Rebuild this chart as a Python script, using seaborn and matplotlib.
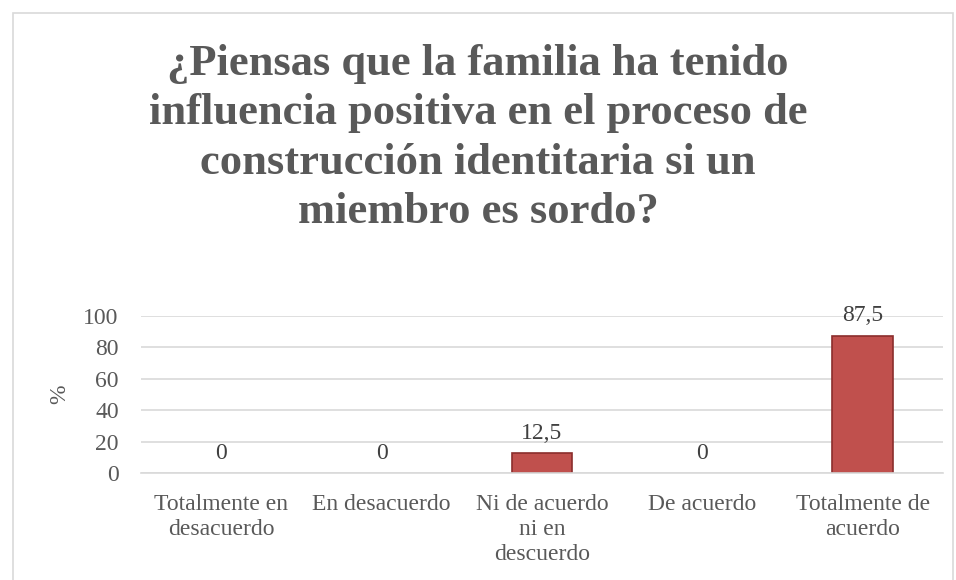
import matplotlib
matplotlib.use("Agg")
import matplotlib.pyplot as plt
import seaborn as sns
import pandas as pd
from matplotlib.patches import Rectangle

# ── Data ──
categories = [
    "Totalmente en\ndesacuerdo",
    "En desacuerdo",
    "Ni de acuerdo\nni en\ndescuerdo",
    "De acuerdo",
    "Totalmente de\nacuerdo",
]
values = [0, 0, 12.5, 0, 87.5]
value_labels = ["0", "0", "12,5", "0", "87,5"]
y_ticks = [0, 20, 40, 60, 80, 100]

title = ("¿Piensas que la familia ha tenido\ninfluencia positiva en el proceso de\n"
         "construcción identitaria si un\nmiembro es sordo?")

df = pd.DataFrame({"cat": categories, "val": values})

sns.set_style("white")
plt.rcParams["font.family"] = ["Liberation Serif", "DejaVu Serif"]

text_col = "#595959"
bar_col = "#C0504D"

fig = plt.figure(figsize=(9.56, 5.8), dpi=100)
ax = fig.add_axes([141 / 956, 1 - 473 / 580, 802 / 956, 157 / 580])

sns.barplot(data=df, x="cat", y="val", color=bar_col, width=0.38,
            edgecolor="#8B2E2C", linewidth=1.2, saturation=1, ax=ax)
# zero-height bars should not leave an outline
for patch, v in zip(ax.patches, values):
    if v == 0:
        patch.set_linewidth(0)

for i, (v, lab) in enumerate(zip(values, value_labels)):
    ax.text(i, v + 6, lab, ha="center", va="bottom", fontsize=17, color="#404040")

ax.set_ylim(0, 100)
ax.set_yticks(y_ticks)
ax.set_yticklabels([str(t) for t in y_ticks], fontsize=17, color=text_col)
ax.set_xticklabels(categories, fontsize=17, color=text_col, linespacing=1.25)
ax.set_xlabel("")
ax.set_ylabel("%", fontsize=17, color=text_col)
ax.yaxis.set_label_coords(-0.088, 0.5)
ax.yaxis.grid(True, color="#D9D9D9", linewidth=1.2)
ax.set_axisbelow(True)
ax.tick_params(axis="y", length=0, pad=16)
ax.tick_params(axis="x", length=0, pad=15)
for side in ["top", "right", "left"]:
    ax.spines[side].set_visible(False)
ax.spines["bottom"].set_color("#D9D9D9")
ax.spines["bottom"].set_linewidth(1.2)

# last title line sits on y=223 px from the top
fig.text(0.5, 1 - 223 / 580, title, ha="center", va="baseline", fontsize=32,
         fontweight="bold", color=text_col, linespacing=1.3)

# chart border
fig.patches.append(Rectangle((13 / 956, -0.01), 940 / 956, 1 - 13 / 580 + 0.01,
                             transform=fig.transFigure, fill=False,
                             edgecolor="#D9D9D9", linewidth=1.2))

fig.savefig("out.png", dpi=100)
